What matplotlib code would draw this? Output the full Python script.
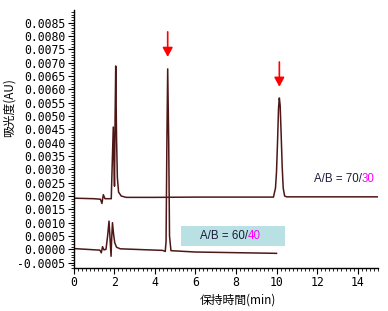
import matplotlib
matplotlib.use("Agg")
import matplotlib.pyplot as plt
from matplotlib.patches import Rectangle
from matplotlib.ticker import MultipleLocator, FormatStrFormatter

# chromatogram A/B = 70/30 (upper trace): retention time (min), absorbance (AU)
t_70 = [0.0, 1.0, 1.33, 1.40, 1.47, 1.55, 1.86, 1.90, 1.96, 2.00, 2.02, 2.05, 2.08,
        2.12, 2.16, 2.22, 2.35, 2.6, 4.0, 6.0, 9.85, 9.95, 10.0, 10.05, 10.10, 10.14,
        10.18, 10.23, 10.28, 10.33, 10.40, 10.5, 15.0]
a_70 = [0.00192, 0.00190, 0.00188, 0.00172, 0.00205, 0.00190, 0.00190, 0.0030, 0.00459,
        0.0031, 0.00237, 0.0050, 0.00688, 0.0042, 0.0027, 0.00215, 0.00200, 0.00195,
        0.00195, 0.00196, 0.00196, 0.0023, 0.0029, 0.0040, 0.0053, 0.00568, 0.0054,
        0.0043, 0.0031, 0.0023, 0.0020, 0.00197, 0.00197]

# chromatogram A/B = 60/40 (lower trace)
t_60 = [0.0, 1.3, 1.37, 1.43, 1.50, 1.60, 1.68, 1.75, 1.80, 1.85, 1.88, 1.92, 1.97,
        2.03, 2.12, 2.3, 4.4, 4.52, 4.56, 4.60, 4.64, 4.69, 4.73, 4.80, 6.0, 10.0]
a_60 = [0.00003, -0.00003, -0.00013, 0.00010, -0.00002, 0.0, 0.0005, 0.00106, 0.0004,
        -0.00026, 0.0004, 0.00100, 0.0006, 0.00025, 0.00008, 0.00002, -0.00004,
        -0.00008, 0.0003, 0.0040, 0.00677, 0.0040, 0.0005, -0.00005, -0.00010, -0.00015]

# target peaks marked with arrows
arrow_x = [4.64, 10.14]
arrow_top = [0.00816, 0.00703]
arrow_bottom = [0.00722, 0.00610]

plt.rcParams['axes.unicode_minus'] = False
jp = ['Noto Sans CJK JP', 'DejaVu Sans']
trace_color = '#4f1616'

fig = plt.figure(figsize=(3.88, 3.11), dpi=100)
ax = fig.add_axes([73.5 / 388, 1 - 268 / 311, (378 - 73.5) / 388, (268 - 10) / 311])

ax.plot(t_70, a_70, color=trace_color, lw=1.1)
ax.plot(t_60, a_60, color=trace_color, lw=1.1)

for x, top, bot in zip(arrow_x, arrow_top, arrow_bottom):
    ax.annotate('', xy=(x, bot), xytext=(x, top),
                arrowprops=dict(arrowstyle='-|>,head_length=0.55,head_width=0.3',
                                color='#ff0000', lw=1.2, shrinkA=0, shrinkB=0))

# labels
ax.add_patch(Rectangle((5.3, 0.00012), 5.12, 0.00075, color='#b9e1e3', lw=0, zorder=1))
ax.text(8.6, 0.00049, 'A/B = 60/', ha='right', va='center', fontsize=8.3,
        family='Liberation Sans', color='#1c1c3c', zorder=3)
ax.text(8.6, 0.00049, '40', ha='left', va='center', fontsize=8.3,
        family='Liberation Sans', color='#ff00ff', zorder=3)
ax.text(14.21, 0.00264, 'A/B = 70/', ha='right', va='center', fontsize=8.3,
        family='Liberation Sans', color='#1c1c3c')
ax.text(14.21, 0.00264, '30', ha='left', va='center', fontsize=8.3,
        family='Liberation Sans', color='#ff00ff')

ax.set_xlim(0, 15)
ax.set_ylim(-0.0007, 0.00898)
ax.xaxis.set_major_locator(MultipleLocator(2))
ax.xaxis.set_minor_locator(MultipleLocator(0.2))
ax.yaxis.set_major_locator(MultipleLocator(0.0005))
ax.yaxis.set_minor_locator(MultipleLocator(0.0001))
ax.yaxis.set_major_formatter(FormatStrFormatter('%.4f'))

ax.spines['top'].set_visible(False)
ax.spines['right'].set_visible(False)
for s in ('left', 'bottom'):
    ax.spines[s].set_linewidth(1.0)
ax.tick_params(which='major', length=4, width=0.8, pad=2, labelsize=8.3)
ax.tick_params(which='minor', length=2, width=0.6)
for lab in ax.get_xticklabels() + ax.get_yticklabels():
    lab.set_family('DejaVu Sans Mono')

ax.set_ylabel('吸光度(AU)', family=jp, fontsize=8.5, labelpad=4)
ax.yaxis.set_label_coords(-0.19, 0.62)
ax.set_xlabel('保持時間(min)', family=jp, fontsize=8.5, labelpad=2)
ax.xaxis.set_label_coords(0.54, -0.1)

fig.savefig('out.png', dpi=100)
